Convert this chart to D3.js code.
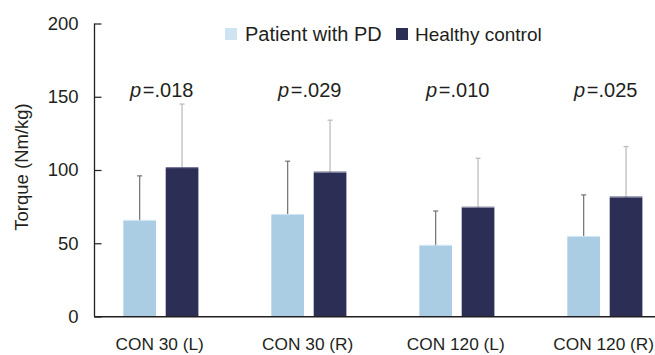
<!DOCTYPE html>
<html><head><meta charset="utf-8">
<script src="https://cdn.jsdelivr.net/npm/d3@7"></script>
<style>body{margin:0;background:#fff}svg{display:block}text{font-family:"Liberation Sans",Arial,sans-serif;fill:#231f20}</style>
</head><body><svg id="c" width="655" height="355"></svg>
<script>
const categories = ["CON 30 (L)", "CON 30 (R)", "CON 120 (L)", "CON 120 (R)"];
const series = ["Patient with PD", "Healthy control"];
const patientMean = [66, 70, 49, 55];
const patientSD = [30, 36, 23, 28];
const controlMean = [102, 99, 75, 82];
const controlSD = [43, 35, 33, 34];
const pValues = [".018", ".029", ".010", ".025"];
const yTicks = [0, 50, 100, 150, 200];
const colors = ["#abcde4", "#2d2e55"];
const errColors = ["#7a7a7a", "#bdbdbd"];

const svg = d3.select("#c");
const y = d3.scaleLinear().domain([0, 200]).range([316.5, 23.5]);
const x0 = d3.scaleBand().domain(categories).range([86.7, 678.7]);
const x1 = d3.scaleBand().domain(series).range([36.6, 111.7]).paddingInner(0.229);

const rows = categories.map((c, i) => ({
  cat: c, p: pValues[i],
  vals: [
    {s: series[0], m: patientMean[i], sd: patientSD[i], k: 0},
    {s: series[1], m: controlMean[i], sd: controlSD[i], k: 1}
  ]
}));

// y axis
const yAxis = d3.axisLeft(y).tickValues(yTicks).tickSize(-7).tickPadding(16).tickFormat(d3.format("d"));
const ga = svg.append("g").attr("transform", "translate(94.5,0)").call(yAxis);
ga.select(".domain").attr("stroke", "#231f20").attr("stroke-width", 1.3).attr("d", `M0,${y(200)}V${y(0)}`);
ga.selectAll(".tick line").attr("stroke", "#231f20").attr("stroke-width", 1.2);
ga.selectAll(".tick text").attr("font-size", 18.5).attr("font-family", '"Liberation Sans",Arial,sans-serif').attr("fill", "#231f20");

// bars
const g = svg.append("g").selectAll("g").data(rows).join("g")
  .attr("transform", d => `translate(${x0(d.cat)},0)`);

// error bars (drawn under bars)
g.selectAll("g.err").data(d => d.vals).join("g").attr("class", "err").each(function(d) {
  const cx = x1(d.s) + x1.bandwidth() / 2;
  const e = d3.select(this).attr("stroke", errColors[d.k]).attr("stroke-width", 1.3);
  e.append("line").attr("x1", cx).attr("x2", cx).attr("y1", y(d.m) + 2).attr("y2", y(d.m + d.sd));
  e.append("line").attr("x1", cx - 2.5).attr("x2", cx + 2.5).attr("y1", y(d.m + d.sd)).attr("y2", y(d.m + d.sd));
  e.append("line").attr("x1", cx - 2.5).attr("x2", cx + 2.5).attr("y1", y(d.m) + 1.5).attr("y2", y(d.m) + 1.5);
});

g.selectAll("rect").data(d => d.vals).join("rect")
  .attr("x", d => x1(d.s))
  .attr("width", x1.bandwidth())
  .attr("y", d => y(d.m) + 1)
  .attr("height", d => y(0) - y(d.m) - 1)
  .attr("fill", d => colors[d.k]);
g.selectAll("rect.top").data(d => d.vals).join("rect").attr("class", "top")
  .attr("x", d => x1(d.s))
  .attr("width", x1.bandwidth())
  .attr("y", d => y(d.m))
  .attr("height", 1)
  .attr("fill", d => d.k ? "#6e7090" : "#cfe3f1");

// p values
g.append("text")
  .attr("x", x0.bandwidth() / 2 + 1)
  .attr("y", 97)
  .attr("text-anchor", "middle")
  .attr("font-size", 20)
  .call(t => {
    t.append("tspan").attr("font-style", "italic").text("p");
    t.append("tspan").text(d => "\u200a=" + d.p);
  });

// x axis line
svg.append("line").attr("x1", 94).attr("x2", 655).attr("y1", 316.8).attr("y2", 316.8)
  .attr("stroke", "#231f20").attr("stroke-width", 1.5);

// x labels
svg.append("g").selectAll("text").data(categories).join("text")
  .attr("x", d => x0(d) + x0.bandwidth() / 2 - 1)
  .attr("y", 350)
  .attr("text-anchor", "middle")
  .attr("font-size", 17.3)
  .text(d => d);

// y title
svg.append("text")
  .attr("transform", "translate(27.5,167) rotate(-90)")
  .attr("text-anchor", "middle")
  .attr("font-size", 18.5)
  .text("Torque (Nm/kg)");

// legend
const legX = [225, 396];
const lg = svg.append("g").selectAll("g").data(series).join("g")
  .attr("transform", (d, i) => `translate(${legX[i]},0)`);
lg.append("rect").attr("x", 0).attr("y", 28).attr("width", 12).attr("height", 12)
  .attr("fill", (d, i) => i ? colors[1] : "#cfe4f2");
lg.append("text").attr("x", (d, i) => i ? 19 : 20).attr("y", 40.5)
  .attr("font-size", (d, i) => i ? 19 : 20)
  .text(d => d);
</script></body></html>
